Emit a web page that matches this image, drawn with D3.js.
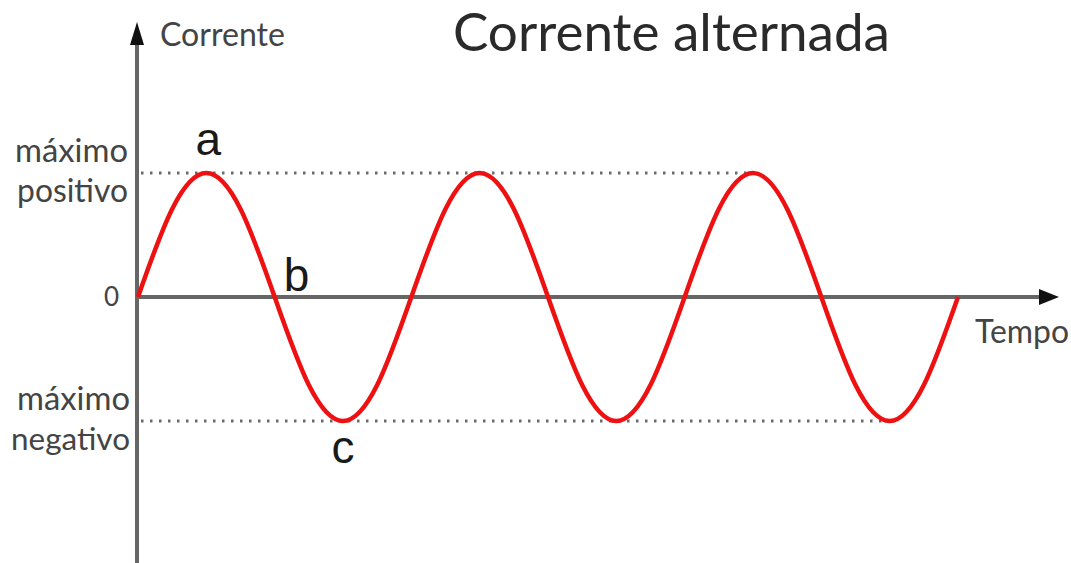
<!DOCTYPE html>
<html lang="pt">
<head>
<meta charset="UTF-8">
<title>Corrente alternada</title>
<script src="https://d3js.org/d3.v7.min.js"></script>
<style>
  body { margin: 0; background: #fff; }
</style>
</head>
<body>
<div id="chart"></div>
<script>
// time in quarter periods, current relative to the peak
var tempo = [0, 0.5, 1, 1.5, 2, 2.5, 3, 3.5, 4, 4.5, 5, 5.5, 6, 6.5, 7, 7.5, 8, 8.5, 9, 9.5, 10, 10.5, 11, 11.5, 12];
var corrente = [0, 0.71, 1, 0.71, 0, -0.71, -1, -0.71, 0, 0.71, 1, 0.71, 0, -0.71, -1, -0.71, 0, 0.71, 1, 0.71, 0, -0.71, -1, -0.71, 0];
var points = [{t: 1, v: 1, label: "a"}, {t: 2, v: 0, label: "b"}, {t: 3, v: -1, label: "c"}];
var levelLabels = [
  {v: 1, lines: ["máximo", "positivo"]},
  {v: 0, lines: ["0"]},
  {v: -1, lines: ["máximo", "negativo"]}
];

var W = 1071, H = 563;
var svg = d3.select("#chart").append("svg")
  .attr("width", W).attr("height", H);

var x = d3.scaleLinear().domain([0, 12]).range([138, 958]);
var y = d3.scaleLinear().domain([-1, 1]).range([421, 173]);

var axisColor = "#666";
var x0 = 137, y0 = y(0);

// dotted guide lines to the last peak / trough
svg.append("line")
  .attr("x1", x0 + 4).attr("x2", x(9)).attr("y1", y(1)).attr("y2", y(1))
  .attr("stroke", "#6a6a6a").attr("stroke-width", 3)
  .attr("stroke-dasharray", "2.5 6.5");
svg.append("line")
  .attr("x1", x0 + 4).attr("x2", x(11)).attr("y1", y(-1)).attr("y2", y(-1))
  .attr("stroke", "#6a6a6a").attr("stroke-width", 3)
  .attr("stroke-dasharray", "2.5 6.5");

// axes
svg.append("line")
  .attr("x1", x0).attr("x2", x0).attr("y1", 40).attr("y2", H)
  .attr("stroke", axisColor).attr("stroke-width", 4);
svg.append("path")
  .attr("d", "M" + x0 + ",22 L" + (x0 - 7) + ",45 L" + (x0 + 7) + ",45 Z")
  .attr("fill", "#111");
svg.append("line")
  .attr("x1", x0).attr("x2", 1045).attr("y1", y0).attr("y2", y0)
  .attr("stroke", axisColor).attr("stroke-width", 4);
svg.append("path")
  .attr("d", "M1059," + y0 + " L1039," + (y0 - 8) + " L1039," + (y0 + 8) + " Z")
  .attr("fill", "#111");

// the wave
var line = d3.line()
  .x(function(d, i) { return x(tempo[i]); })
  .y(function(d) { return y(d); })
  .curve(d3.curveNatural);
svg.append("path")
  .datum(corrente)
  .attr("d", line)
  .attr("fill", "none")
  .attr("stroke", "#ee1111")
  .attr("stroke-width", 4.5);

// make a text fit a given width
function fit(sel, width) {
  var w = sel.node().getComputedTextLength();
  var fs = parseFloat(sel.style("font-size"));
  sel.style("font-size", (fs * width / w) + "px");
  return sel;
}

var font = "Lato, 'Open Sans', sans-serif";

// title and axis names
fit(svg.append("text")
  .attr("x", 453).attr("y", 51)
  .style("font-family", font).style("font-size", "46px")
  .attr("fill", "#2a2a2a")
  .text("Corrente alternada"), 437);

fit(svg.append("text")
  .attr("x", 160).attr("y", 46)
  .style("font-family", font).style("font-size", "24px")
  .attr("fill", "#444")
  .text("Corrente"), 125);

fit(svg.append("text")
  .attr("x", 975).attr("y", 343)
  .style("font-family", font).style("font-size", "24px")
  .attr("fill", "#444")
  .text("Tempo"), 94);

// level labels on the left
var lineWidths = {"máximo": 113, "positivo": 111, "negativo": 119};
levelLabels.forEach(function(l) {
  var n = l.lines.length;
  l.lines.forEach(function(s, k) {
    var yy = y(l.v) + 9 + (k - (n - 1) / 2) * 40;
    var t = svg.append("text")
      .attr("x", l.v < 0 ? 130 : (l.v === 0 ? 119 : 128)).attr("y", yy)
      .attr("text-anchor", "end")
      .style("font-family", font).style("font-size", "26px")
      .attr("fill", "#444")
      .text(s);
    if (lineWidths[s]) fit(t, lineWidths[s]);
  });
});

// point letters
var letterOffset = {a: [2, -18], b: [9, -6], c: [0, 42]};
points.forEach(function(p) {
  var o = letterOffset[p.label];
  svg.append("text")
    .attr("x", x(p.t) + o[0]).attr("y", y(p.v) + o[1])
    .attr("text-anchor", p.label === "b" ? "start" : "middle")
    .style("font-family", "'Liberation Sans', Arial, sans-serif")
    .style("font-size", "46px")
    .attr("fill", "#1a1a1a")
    .text(p.label);
});
</script>
</body>
</html>
